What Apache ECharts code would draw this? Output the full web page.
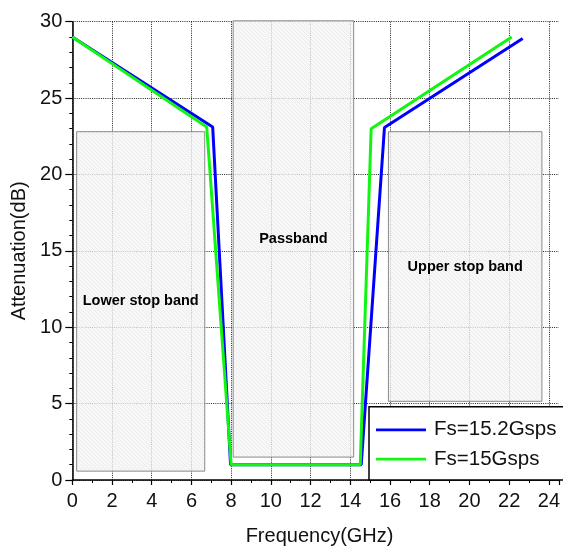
<!DOCTYPE html>
<html>
<head>
<meta charset="utf-8">
<script src="https://cdn.jsdelivr.net/npm/echarts@6/dist/echarts.min.js"></script>
<style>
  html, body { margin: 0; padding: 0; background: #fff; }
  #chart { width: 563px; height: 551px; }
</style>
</head>
<body>
<div id="chart"></div>
<script>
// Attenuation response for two sampling rates
const freq152 = [0, 7.07, 7.97, 14.55, 15.72, 22.68];
const att152  = [29, 23.1, 1.0, 1.0, 23.07, 28.9];
const freq15  = [0, 6.77, 8.0, 14.5, 15.05, 22.13];
const att15   = [29, 23.1, 1.0, 1.0, 23.0, 29.0];
const seriesNames = ['Fs=15.2Gsps', 'Fs=15Gsps'];

// Shaded frequency bands: [start, end] in GHz, [bottom, top] in dB
const bandNames  = ['Lower stop band', 'Passband', 'Upper stop band'];
const bandStart  = [0.22, 8.1, 15.92];
const bandEnd    = [6.67, 14.17, 23.65];
const bandBottom = [0.58, 1.5, 5.15];
const bandTop    = [22.8, 30.06, 22.8];

const xTicks = { min: 0, max: 24.5, step: 2 };
const yTicks = { min: 0, max: 30, step: 5 };

// faint hatched fill for the band boxes
function hatchPattern() {
  const c = document.createElement('canvas');
  c.width = 4; c.height = 4;
  const g = c.getContext('2d');
  g.fillStyle = 'rgba(244,244,244,0.75)';
  g.fillRect(0, 0, 4, 4);
  g.strokeStyle = 'rgba(226,226,226,0.6)';
  g.lineWidth = 0.8;
  g.beginPath();
  g.moveTo(-1, -1); g.lineTo(5, 5);
  g.moveTo(-1, 3); g.lineTo(1, 5);
  g.moveTo(3, -1); g.lineTo(5, 1);
  g.stroke();
  return { image: c, repeat: 'repeat' };
}
const hatch = hatchPattern();

// legend glyph: a plain horizontal stroke across the icon box
const lineIcon = 'path://M0,0h0.01v0.01h-0.01z M0,8.6h50v2.8h-50z M49.99,19.99h0.01v0.01h-0.01z';

const zip = (xs, ys) => xs.map((x, i) => [x, ys[i]]);
const bandData = bandNames.map((n, i) => [bandStart[i], bandEnd[i], bandBottom[i], bandTop[i], i]);

const FONT = '"Liberation Sans", Arial, sans-serif';
const chart = echarts.init(document.getElementById('chart'), null, { renderer: 'canvas' });

chart.setOption({
  animation: false,
  backgroundColor: '#fff',
  grid: { left: 72.3, top: 21.7, right: 0.7, bottom: 67.7 },
  xAxis: {
    type: 'value',
    min: xTicks.min, max: xTicks.max, interval: xTicks.step,
    name: 'Frequency(GHz)',
    nameLocation: 'middle',
    nameGap: 46,
    nameTextStyle: { fontFamily: FONT, fontSize: 20, color: '#111', padding: [0, 0, 0, 8] },
    axisLine: { onZero: false, lineStyle: { color: '#000', width: 1.5 } },
    axisTick: { length: 5, lineStyle: { color: '#000', width: 1.2 } },
    minorTick: { show: true, splitNumber: 2, length: 3, lineStyle: { color: '#000', width: 1 } },
    axisLabel: {
      fontFamily: FONT, fontSize: 20, color: '#111', margin: 11,
      showMaxLabel: false,
      formatter: v => (v % 2 === 0 ? String(v) : '')
    },
    splitLine: { show: true, showMaxLine: false, lineStyle: { color: '#222', width: 1, type: [1, 1.2] } }
  },
  yAxis: {
    type: 'value',
    min: yTicks.min, max: yTicks.max, interval: yTicks.step,
    name: 'Attenuation(dB)',
    nameLocation: 'middle',
    nameGap: 40,
    nameTextStyle: { fontFamily: FONT, fontSize: 20, color: '#111' },
    axisLine: { show: true, lineStyle: { color: '#000', width: 1.5 } },
    axisTick: { length: 7, lineStyle: { color: '#000', width: 1.2 } },
    minorTick: { show: true, splitNumber: 5, length: 3, lineStyle: { color: '#000', width: 1 } },
    axisLabel: { fontFamily: FONT, fontSize: 20, color: '#111', margin: 10 },
    splitLine: { show: true, lineStyle: { color: '#222', width: 1, type: [1, 1.2] } }
  },
  legend: {
    left: 369, top: 406.7,
    orient: 'vertical',
    data: seriesNames.map(n => ({ name: n, icon: lineIcon })),
    backgroundColor: '#fff',
    borderColor: '#000',
    borderWidth: 1.5,
    borderRadius: 0,
    padding: [12.6, 30, 10.3, 7],
    itemWidth: 50,
    itemHeight: 20,
    itemGap: 8.4,
    textStyle: { fontFamily: FONT, fontSize: 20.5, color: '#111', lineHeight: 20, padding: [0, 0, 0, 3] }
  },
  series: [
    {
      type: 'custom',
      name: 'bands',
      z: 1,
      silent: true,
      data: bandData,
      encode: { x: [0, 1], y: [2, 3] },
      renderItem: (params, api) => {
        const tl = api.coord([api.value(0), api.value(3)]);
        const br = api.coord([api.value(1), api.value(2)]);
        const name = bandNames[api.value(4)];
        return {
          type: 'group',
          children: [
            {
              type: 'rect',
              shape: { x: tl[0], y: tl[1], width: br[0] - tl[0], height: br[1] - tl[1] },
              style: { fill: hatch, stroke: '#8a8a8a', lineWidth: 1 }
            },
            {
              type: 'text',
              x: (tl[0] + br[0]) / 2,
              y: (tl[1] + br[1]) / 2,
              style: {
                text: name, fontFamily: FONT, fontSize: 14.5, fontWeight: 'bold',
                fill: '#000', align: 'center', verticalAlign: 'middle'
              }
            }
          ]
        };
      }
    },
    {
      type: 'line',
      name: seriesNames[0],
      z: 3,
      data: zip(freq152, att152),
      symbol: 'none',
      lineStyle: { color: '#0000ff', width: 3 },
      itemStyle: { color: '#0000ff' }
    },
    {
      type: 'line',
      name: seriesNames[1],
      z: 4,
      data: zip(freq15, att15),
      symbol: 'none',
      lineStyle: { color: '#11f511', width: 3 },
      itemStyle: { color: '#11f511' }
    }
  ]
});
</script>
</body>
</html>
